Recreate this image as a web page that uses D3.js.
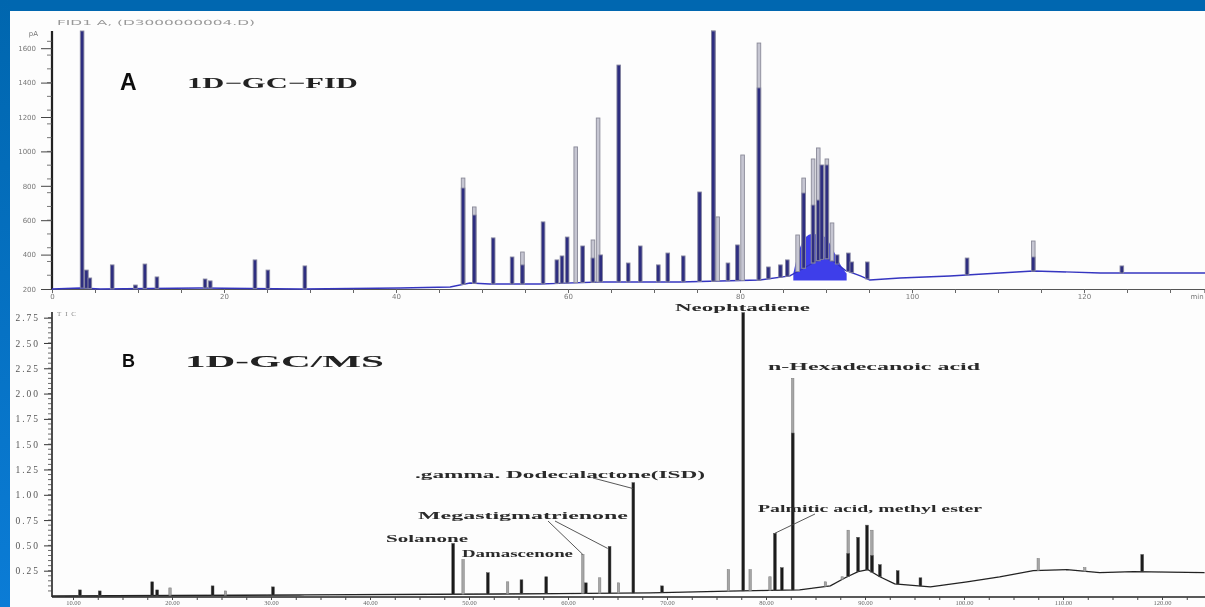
<!DOCTYPE html>
<html>
<head>
<meta charset="utf-8">
<script src="https://d3js.org/d3.v7.min.js"></script>
<style>
  html, body { margin: 0; padding: 0; background: #fdfdfd; }
  svg { display: block; }
</style>
</head>
<body>
<svg id="chart" width="1205" height="607"></svg>
<script>
// ---- data ----
// A: GC-FID, retention time (min) / signal (pA x10)
var fidTicksY = [200, 400, 600, 800, 1000, 1200, 1400, 1600];
var fidTicksX = [0, 20, 40, 60, 80, 100, 120];
var fidNavyPeaks = [
  [3.5, 1700], [4.0, 310], [4.4, 264], [7.0, 340], [9.7, 223], [10.8, 345], [12.2, 270],
  [17.8, 258], [18.4, 247], [23.6, 369], [25.1, 310], [29.4, 334],
  [47.8, 787], [49.1, 630], [51.3, 497], [53.5, 386], [54.7, 340], [57.1, 590],
  [58.7, 369], [59.3, 392], [59.9, 502], [61.7, 450], [62.9, 380], [63.8, 398],
  [65.9, 1502], [67.0, 351], [68.4, 450], [70.5, 340], [71.6, 409], [73.4, 392],
  [75.3, 764], [76.9, 1700], [78.6, 351], [79.7, 456], [82.2, 1369], [83.3, 328],
  [84.7, 340], [85.5, 369], [87.4, 758], [88.5, 688], [89.1, 717], [89.5, 921],
  [90.1, 921], [91.3, 398], [92.6, 409], [93.0, 357], [94.8, 357],
  [106.4, 380], [114.1, 386], [124.4, 334]
];
var fidGrayPeaks = [
  [47.8, 845], [49.1, 677], [54.7, 415], [60.9, 1026], [62.9, 485], [63.5, 1194],
  [76.9, 1700], [77.4, 619], [80.3, 979], [82.2, 1630], [86.7, 514], [87.4, 845],
  [88.5, 956], [89.1, 1020], [90.1, 956], [90.7, 584], [114.1, 479]
];
var fidBaseline = [
  [0, 200], [3.3, 206], [5.6, 200], [17.2, 206], [28.8, 200], [40.5, 206], [46.3, 212],
  [48.6, 235], [50.9, 229], [56.7, 229], [63.7, 241], [73.0, 241], [82.3, 252],
  [85.8, 276], [87.0, 310], [88.7, 357], [89.9, 380], [91.0, 357], [92.2, 310],
  [94.0, 276], [95.1, 252], [98.6, 264], [104.4, 276], [110.2, 293], [114.1, 305],
  [121.9, 293], [134.1, 293]
];
var fidBlob = [
  [86.2, 290], [86.9, 430], [87.6, 500], [88.4, 520], [89.3, 515], [90.1, 490],
  [90.9, 420], [91.7, 340], [92.4, 290]
];

// B: GC/MS total ion current, retention time (min) / abundance
var msTicksY = [0.25, 0.5, 0.75, 1.0, 1.25, 1.5, 1.75, 2.0, 2.25, 2.5, 2.75];
var msTicksX = [10, 20, 30, 40, 50, 60, 70, 80, 90, 100, 110, 120];
var msDarkPeaks = [
  [10.7, 0.06], [12.7, 0.05], [18.0, 0.14], [18.5, 0.06], [24.1, 0.10], [30.2, 0.09],
  [48.4, 0.52], [51.9, 0.23], [55.3, 0.16], [57.8, 0.19], [61.8, 0.13], [64.2, 0.49],
  [66.6, 1.12], [69.5, 0.10], [77.7, 2.80], [80.9, 0.62], [81.6, 0.28], [82.7, 1.61],
  [88.3, 0.42], [89.3, 0.58], [90.2, 0.70], [90.7, 0.40], [91.5, 0.31], [93.3, 0.25],
  [95.6, 0.18], [118.0, 0.41]
];
var msGrayPeaks = [
  [19.8, 0.08], [25.4, 0.05], [49.4, 0.36], [53.9, 0.14], [61.5, 0.41], [63.2, 0.18],
  [65.1, 0.13], [76.2, 0.26], [78.4, 0.26], [80.4, 0.19], [82.7, 2.15], [86.0, 0.14],
  [87.7, 0.19], [88.3, 0.65], [90.7, 0.65], [107.5, 0.37], [112.2, 0.28]
];
var msBaseline = [
  [7.9, 0], [32.9, 0.01], [53.1, 0.02], [68.3, 0.03], [77.4, 0.05], [83.4, 0.06],
  [86.5, 0.10], [88.0, 0.18], [89.3, 0.24], [90.3, 0.26], [91.5, 0.19], [93.0, 0.12],
  [96.6, 0.09], [100.3, 0.14], [103.6, 0.19], [107.0, 0.25], [110.4, 0.26],
  [113.7, 0.23], [117.1, 0.24], [124.3, 0.23]
];
var msLabels = [
  "Neophtadiene", "n-Hexadecanoic acid", ".gamma. Dodecalactone(ISD)",
  "Megastigmatrienone", "Solanone", "Damascenone", "Palmitic acid, methyl ester"
];

// ---- drawing ----
var svg = d3.select("#chart");
var defs = svg.append("defs");
defs.append("filter").attr("id", "soft")
  .append("feGaussianBlur").attr("stdDeviation", 0.55);
var grad = defs.append("linearGradient").attr("id", "sideBlue")
  .attr("x1", 0).attr("y1", 0).attr("x2", 0).attr("y2", 1);
grad.append("stop").attr("offset", "0%").attr("stop-color", "#0066ae");
grad.append("stop").attr("offset", "100%").attr("stop-color", "#0b7cd6");

var g = svg.append("g").attr("filter", "url(#soft)");

// interpolate a baseline at time t (for the foot of each peak)
var bis = d3.bisector(function(d){ return d[0]; }).left;
function baseAt(line, t){
  var i = bis(line, t);
  if (i <= 0) return line[0][1];
  if (i >= line.length) return line[line.length-1][1];
  var a = line[i-1], b = line[i];
  return a[1] + (b[1]-a[1]) * (t - a[0]) / (b[0] - a[0]);
}

// stretched text, the slide scan has wide blurry glyphs
function wideText(sel, x, y, w, size, family, txt){
  return sel.append("text").attr("x", x).attr("y", y)
    .attr("textLength", w).attr("lengthAdjust", "spacingAndGlyphs")
    .attr("font-family", family).attr("font-weight", "bold").attr("font-size", size)
    .text(txt);
}

// ===== panel A =====
var xA = d3.scaleLinear().domain([0, 134]).range([52, 1204.4]);
var yA = d3.scaleLinear().domain([200, 1700]).range([289, 31]);

g.append("text").attr("x", 57).attr("y", 25).attr("textLength", 198).attr("lengthAdjust", "spacingAndGlyphs")
  .attr("font-family", "DejaVu Sans").attr("font-size", 7).attr("fill", "#999")
  .text("FID1 A, (D3000000004.D)");

// y axis
var ayA = g.append("g").attr("transform", "translate(52,0)")
  .call(d3.axisLeft(yA).tickValues(fidTicksY).tickSize(11).tickFormat(d3.format("d")));
ayA.select(".domain").attr("stroke", "#222").attr("stroke-width", 2.2)
  .attr("d", "M0," + yA(1700) + "V" + yA(200));
ayA.selectAll(".tick line").attr("stroke", "#444");
ayA.selectAll(".tick text").attr("font-family", "DejaVu Sans").attr("font-size", 7).attr("fill", "#777").attr("dx", -2);
g.append("g").selectAll("line").data(d3.range(280, 1700, 80)).join("line")
  .attr("x1", 47).attr("x2", 52).attr("y1", function(d){ return yA(d); }).attr("y2", function(d){ return yA(d); })
  .attr("stroke", "#555").attr("stroke-width", 0.8);
g.append("text").attr("x", 38).attr("y", 36).attr("text-anchor", "end")
  .attr("font-family", "DejaVu Sans").attr("font-size", 7).attr("fill", "#777").text("pA");

// x axis
var axA = g.append("g").attr("transform", "translate(0,289)")
  .call(d3.axisBottom(xA).tickValues(d3.range(0, 135, 5)).tickSize(4)
    .tickFormat(function(d){ return fidTicksX.indexOf(d) >= 0 ? d : ""; }));
axA.select(".domain").attr("stroke", "#555").attr("stroke-width", 1);
axA.selectAll(".tick line").attr("stroke", "#666");
axA.selectAll(".tick text").attr("font-family", "DejaVu Sans").attr("font-size", 7).attr("fill", "#777").attr("dy", "0.45em");
g.append("text").attr("x", 1197).attr("y", 299).attr("text-anchor", "middle")
  .attr("font-family", "DejaVu Sans").attr("font-size", 7).attr("fill", "#777").text("min");

// baseline + bright blob in the crowded region
g.append("path").datum(fidBlob)
  .attr("d", d3.area().x(function(d){ return xA(d[0]); })
    .y0(yA(250)).y1(function(d){ return yA(d[1]); }).curve(d3.curveMonotoneX))
  .attr("fill", "#2a2ae8").attr("opacity", 0.9);
g.append("path").datum(fidBaseline)
  .attr("d", d3.line().x(function(d){ return xA(d[0]); }).y(function(d){ return yA(d[1]); }))
  .attr("fill", "none").attr("stroke", "#3434c0").attr("stroke-width", 1.4);

function fidPeaks(data, fill, stroke){
  g.append("g").selectAll("rect").data(data).join("rect")
    .attr("x", function(d){ return xA(d[0]) - 1.8; })
    .attr("width", 3.6)
    .attr("y", function(d){ return yA(d[1]); })
    .attr("height", function(d){ return Math.max(0, yA(baseAt(fidBaseline, d[0])) - yA(d[1])); })
    .attr("fill", fill).attr("stroke", stroke).attr("stroke-width", 0.9);
}
fidPeaks(fidGrayPeaks, "#c6c6d2", "#8a8a98");
fidPeaks(fidNavyPeaks, "#2e2e80", "#8686a0");

g.append("text").attr("x", 120).attr("y", 90)
  .attr("font-family", "Liberation Sans").attr("font-weight", "bold").attr("font-size", 23).attr("fill", "#111").text("A");
wideText(g, 187, 88, 171, 15, "Liberation Serif", "1D\u2212GC\u2212FID").attr("fill", "#222");

// ===== panel B =====
var xB = d3.scaleLinear().domain([10, 120]).range([73, 1162]);
var yB = d3.scaleLinear().domain([0, 2.8]).range([596, 312.6]);

var ayB = g.append("g").attr("transform", "translate(52,0)")
  .call(d3.axisLeft(yB).tickValues(msTicksY).tickSize(8).tickFormat(d3.format(".2f")));
ayB.select(".domain").attr("stroke", "#222").attr("stroke-width", 1.6)
  .attr("d", "M0,312V597");
ayB.selectAll(".tick line").attr("stroke", "#333");
ayB.selectAll(".tick text").attr("font-family", "Liberation Serif").attr("font-size", 9.5)
  .attr("letter-spacing", 2).attr("fill", "#555").attr("dx", -1);
g.append("g").selectAll("line").data(d3.range(0.05, 2.8, 0.05)).join("line")
  .attr("x1", 48).attr("x2", 52).attr("y1", function(d){ return yB(d); }).attr("y2", function(d){ return yB(d); })
  .attr("stroke", "#444").attr("stroke-width", 0.8);
g.append("text").attr("x", 57).attr("y", 316).attr("textLength", 19)
  .attr("font-family", "Liberation Serif").attr("font-size", 7).attr("fill", "#888").text("TIC");

var axB = g.append("g").attr("transform", "translate(0,597)")
  .call(d3.axisBottom(xB).tickValues(d3.range(10, 125, 2.5)).tickSize(3)
    .tickFormat(function(d){ return msTicksX.indexOf(d) >= 0 ? d3.format(".2f")(d) : ""; }));
axB.select(".domain").attr("stroke", "#222").attr("stroke-width", 1.4).attr("d", "M52,0H1205");
axB.selectAll(".tick line").attr("stroke", "#444");
axB.selectAll(".tick text").attr("font-family", "Liberation Serif").attr("font-size", 6.5).attr("fill", "#666")
  .attr("y", 3).attr("dy", "0.71em");

g.append("path").datum(msBaseline)
  .attr("d", d3.line().x(function(d){ return xB(d[0]); }).y(function(d){ return yB(d[1]); }))
  .attr("fill", "none").attr("stroke", "#222").attr("stroke-width", 1.3);

function msPeaks(data, fill, stroke, w){
  g.append("g").selectAll("rect").data(data).join("rect")
    .attr("x", function(d){ return xB(d[0]) - w/2; })
    .attr("width", w)
    .attr("y", function(d){ return yB(d[1]); })
    .attr("height", function(d){ return Math.max(0, yB(baseAt(msBaseline, d[0])) - yB(d[1])); })
    .attr("fill", fill).attr("stroke", stroke).attr("stroke-width", 0.5);
}
msPeaks(msGrayPeaks, "#a6a6a6", "#777", 2.4);
msPeaks(msDarkPeaks, "#1a1a1a", "#555", 2.8);

g.append("text").attr("x", 122).attr("y", 367)
  .attr("font-family", "Liberation Sans").attr("font-weight", "bold").attr("font-size", 18).attr("fill", "#111").text("B");
wideText(g, 185, 367, 199, 17, "Liberation Serif", "1D-GC/MS").attr("fill", "#222");

// compound labels: [x start, x end, baseline]
var labelPos = [[675, 810, 311], [768, 980, 370], [415, 705, 478], [418, 628, 519],
                [386, 468, 542], [462, 573, 557], [758, 982, 512]];
g.append("g").selectAll("text").data(msLabels).join("text")
  .attr("x", function(d, i){ return labelPos[i][0]; })
  .attr("y", function(d, i){ return labelPos[i][2]; })
  .attr("textLength", function(d, i){ return labelPos[i][1] - labelPos[i][0]; })
  .attr("lengthAdjust", "spacingAndGlyphs")
  .attr("font-family", "Liberation Serif").attr("font-weight", "bold").attr("font-size", 11)
  .attr("fill", "#2a2a2a")
  .text(function(d){ return d; });

// leader lines from labels to their peaks
var leaders = [
  [[593, 478], [xB(66.6), yB(1.12) + 6]],
  [[548, 521], [xB(61.5), yB(0.41)]],
  [[555, 521], [xB(64.2) - 2, yB(0.49) + 2]],
  [[815, 514], [xB(80.9), yB(0.62)]]
];
g.append("g").selectAll("path").data(leaders).join("path")
  .attr("d", d3.line())
  .attr("fill", "none").attr("stroke", "#444").attr("stroke-width", 0.9);

// blue slide frame (top + left)
svg.append("rect").attr("x", 0).attr("y", 0).attr("width", 1205).attr("height", 11).attr("fill", "#0067b0");
svg.append("rect").attr("x", 0).attr("y", 0).attr("width", 10).attr("height", 607).attr("fill", "url(#sideBlue)");
</script>
</body>
</html>
